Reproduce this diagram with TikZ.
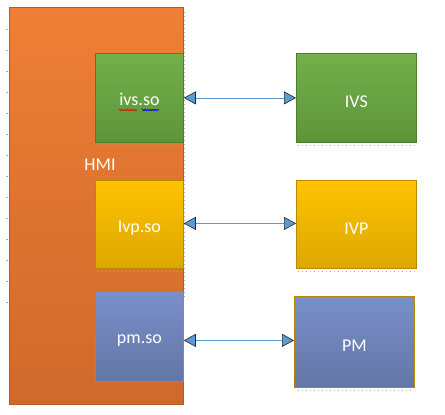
\documentclass[tikz,border=0pt]{standalone}
\usepackage{fontspec}
\setmainfont{Carlito}
\usetikzlibrary{arrows.meta,decorations.pathmorphing}
\definecolor{orA}{HTML}{EE7F36}
\definecolor{orB}{HTML}{CF692B}
\definecolor{orE}{HTML}{B65A22}
\definecolor{grA}{HTML}{72B04A}
\definecolor{grB}{HTML}{5E9439}
\definecolor{grE}{HTML}{4E7D2F}
\definecolor{goA}{HTML}{FFC300}
\definecolor{goB}{HTML}{DCA700}
\definecolor{goE}{HTML}{B88A00}
\definecolor{blA}{HTML}{7A8FCA}
\definecolor{blB}{HTML}{6376A6}
\definecolor{lnB}{HTML}{5B9BD5}
\definecolor{tick}{HTML}{B8A89A}
\tikzset{
  x=1pt,y=-1pt,
  lbl/.style={text=white, font=\fontsize{18}{20}\selectfont, inner sep=0pt},
  box/.style={lbl, line width=0.8pt, anchor=north west, inner sep=0pt},
  greenbox/.style={box, draw=grE, top color=grA, bottom color=grB},
  goldbox/.style={box, draw=goE, top color=goA, bottom color=goB},
  bluebox/.style={box, draw=goE, top color=blA, bottom color=blB},
  link/.style={draw=lnB, line width=0.8pt,
    {Triangle[length=12pt,width=13pt,fill=lnB,color=black!85,line width=0.6pt]}-{Triangle[length=12pt,width=13pt,fill=lnB,color=black!85,line width=0.6pt]}},
  shadowdots/.style={draw=tick, line width=1pt, dash pattern=on 1pt off 3pt},
}
\begin{document}
\begin{tikzpicture}
\useasboundingbox (0,0) rectangle (445,415);
% HMI
\node[box, draw=orE, top color=orA, bottom color=orB, minimum width=174pt, minimum height=397pt] (hmibox) at (9,7) {};
\node[lbl] (hmi) at (100,165) {HMI};
% left ticks
\foreach \yy in {29,50,71,92,113,134,155,176,197,218,239,260,281,302}
  \draw[tick, line width=0.8pt] (6,\yy) -- (8,\yy);
\draw[shadowdots] (184,12) -- (184,300);
% shadows
\draw[shadowdots] (97,145) -- (183,145);
\draw[shadowdots] (298,145) -- (416,145);
\draw[shadowdots] (97,271) -- (183,271);
\draw[shadowdots] (298,271) -- (416,271);
\draw[shadowdots] (298,390) -- (414,390);
% boxes
\node[greenbox, minimum width=88pt, minimum height=89pt, text height=15pt] (ivsso) at (95,53) {ivs.so};
\draw[red, line width=0.7pt, decorate, decoration={zigzag, segment length=2.5pt, amplitude=0.8pt}] (119,110) -- (137,110);
\draw[blue, line width=0.7pt, decorate, decoration={zigzag, segment length=2.5pt, amplitude=0.8pt}] (142,110) -- (159,110);
\node[greenbox, minimum width=120pt, minimum height=89pt, text height=20pt] (ivs) at (296,53) {IVS};
\node[goldbox, minimum width=88pt, minimum height=88pt, text height=19pt] (ivpso) at (95,180) {Ivp.so};
\node[goldbox, minimum width=120pt, minimum height=88pt, text height=21pt] (ivp) at (296,180) {IVP};
\node[bluebox, minimum width=88pt, minimum height=90pt, text height=17pt] (pmso) at (95,291) {pm.so};
\node[bluebox, minimum width=120pt, minimum height=91pt, text height=20pt] (pm) at (294,296) {PM};
% connectors
\draw[link] (ivsso.east) -- (ivs.west |- ivsso.east);
\draw[link] ([yshift=1pt]ivpso.east) -- ([yshift=1pt]ivpso.east -| ivp.west);
\draw[link] ([yshift=-4pt]pmso.east) -- ([yshift=-4pt]pmso.east -| pm.west);
\end{tikzpicture}
\end{document}
